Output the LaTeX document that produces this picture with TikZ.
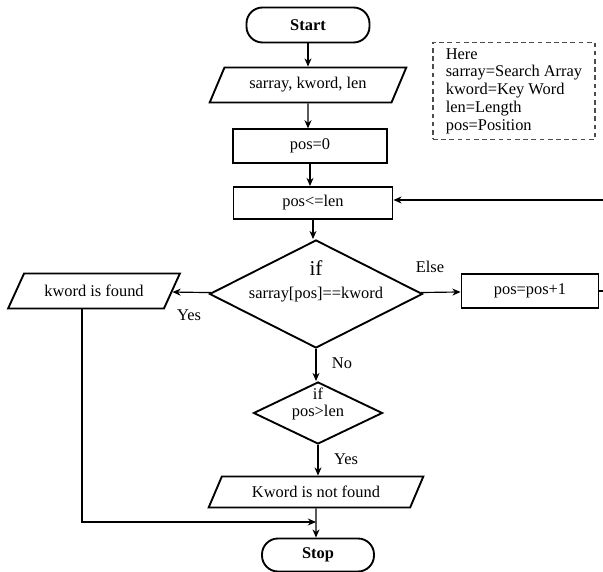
\documentclass[tikz,border=0pt]{standalone}
\usepackage{fontspec}
\setmainfont{Liberation Serif}
\usepackage{tikz}
\usetikzlibrary{shapes.geometric, arrows.meta}
\tikzstyle{startstop} = [rectangle, rounded corners=0.48cm, minimum width=3.69cm, minimum height=1.05cm, text centered, draw=black, line width=1.6pt, font=\fontsize{14}{15.2}\selectfont\bfseries]
\tikzstyle{io} = [trapezium, trapezium left angle=64, trapezium right angle=116, trapezium stretches=true, minimum height=1.05cm, text centered, draw=black, line width=1.6pt]
\tikzstyle{process} = [rectangle, minimum width=4.62cm, minimum height=1cm, text centered, draw=black, line width=1.6pt]
\tikzstyle{decision} = [diamond, inner sep=0pt, draw=black, line width=1.6pt]
\tikzstyle{note} = [rectangle, dashed, dash pattern=on 4pt off 3pt, draw=black!70, line width=1pt, align=left, minimum width=4.86cm, minimum height=2.91cm]
\tikzstyle{arrow} = [line width=1pt,->,>={Stealth[length=7pt,width=6pt]}]

\begin{document}
\begin{tikzpicture}[x=0.03cm, y=-0.03cm, every node/.style={font=\fontsize{14}{15.2}\selectfont}]
\useasboundingbox (0,0) rectangle (603,572);
\node(start)[startstop] at (308,25){Start};
\node(io1)[io,minimum width=5.9cm] at (308,85){sarray, kword, len};
\node(pro1)[process] at (310,146){pos=0};
\node(pro2)[process,minimum width=4.77cm,minimum height=0.96cm] at (313,203){pos\textless=len};
\node(dec1)[decision,minimum width=6.39cm,minimum height=3.24cm] at (316,294){};
\node(if1) at (316,268){\fontsize{18}{18}\selectfont if};
\node(cmp1) at (316,295){sarray[pos]==kword};
\node(io2)[io,trapezium left angle=58,trapezium right angle=122,minimum width=5.16cm] at (94,291){kword is found};
\node(pro3)[process,minimum width=4.11cm,minimum height=1.02cm] at (530,291){pos=pos+1};
\node(dec2)[decision,minimum width=3.87cm,minimum height=1.86cm] at (318,413){};
\node(cmp2)[align=center] at (318,404){if\\pos\textgreater len};
\node(io3)[io,minimum width=6.45cm,minimum height=0.93cm] at (316,492){Kword is not found};
\node(stop)[startstop,minimum width=3.36cm,minimum height=0.99cm] at (318,555){Stop};
\node(note1)[note] at (514,91){Here\\sarray=Search Array\\kword=Key Word\\len=Length\\pos=Position};

% branch labels
\node(yes1) at (189,315){Yes};
\node(else1) at (430,267){Else};
\node(no1) at (342,363){No};
\node(yes2) at (346,459){Yes};

\coordinate(loop1) at (612,200);
\coordinate(join1) at (316,522);

\draw[arrow] (start) -- (start |- io1.north);
\draw[arrow] (io1) -- (io1 |- pro1.north);
\draw[arrow] (pro1) -- (pro1 |- pro2.north);
\draw[arrow] (pro2) -- (pro2 |- dec1.north);
\draw[arrow] (dec1) -- (io2);
\draw[arrow] (dec1) -- (pro3);
\draw[arrow] (pro3.east) -| (loop1) -- (loop1 -| pro2.east);
\draw[arrow] (dec1) -- (dec1 |- dec2.north);
\draw[arrow] (dec2) -- (dec2 |- io3.north);
\draw[arrow] (io3) -- (io3 |- stop.north);
\draw[arrow] ([xshift=-0.36cm]io2.south) |- (join1);

\end{tikzpicture}
\end{document}
